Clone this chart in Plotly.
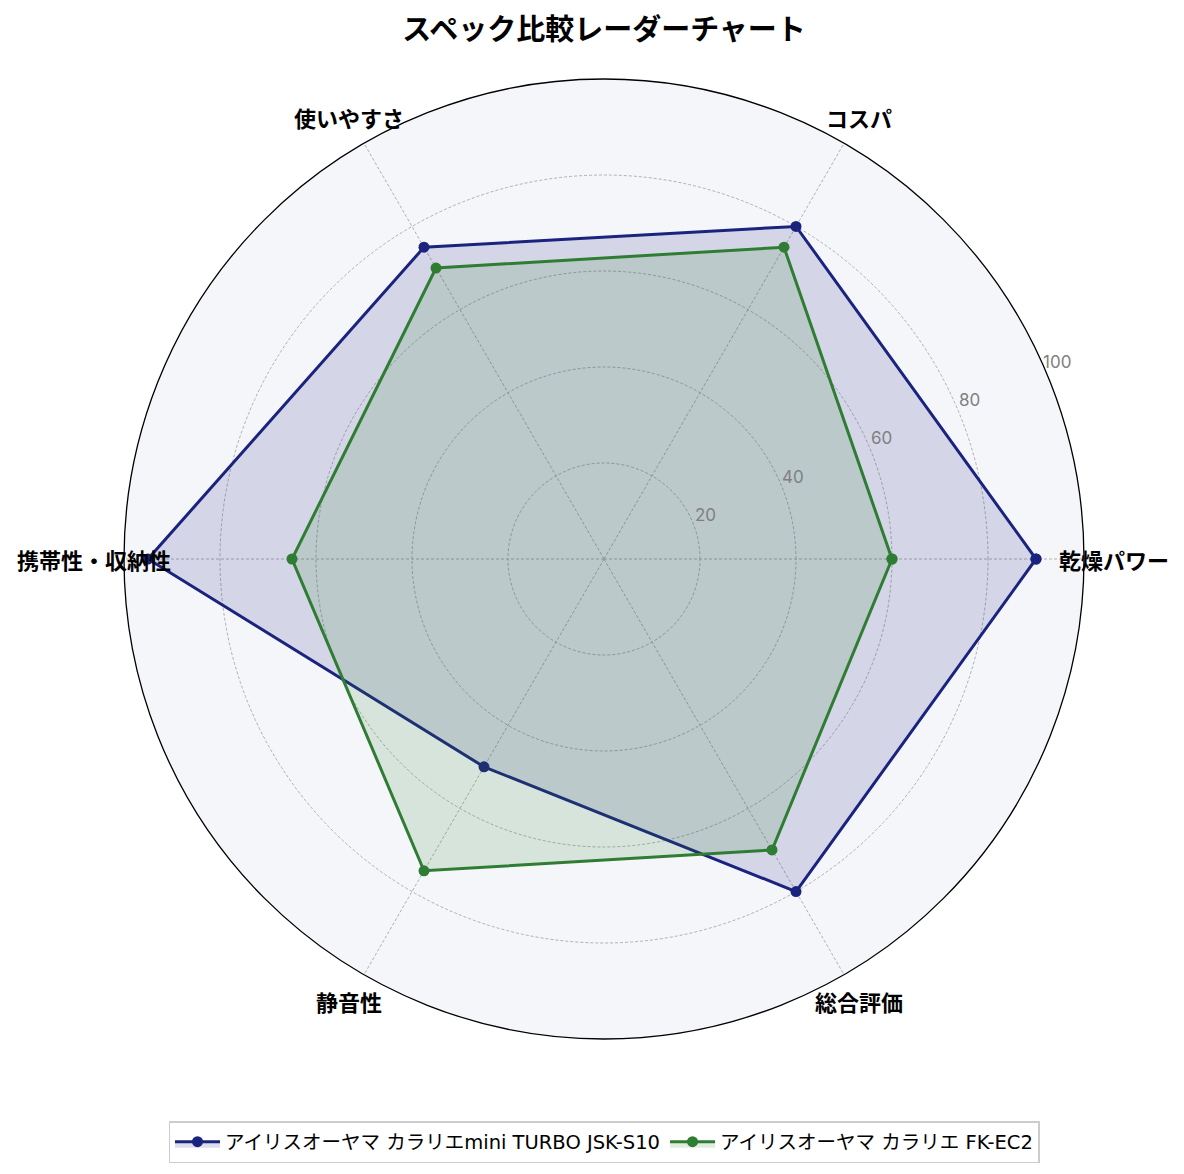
import math
import plotly.graph_objects as go

categories = ["乾燥パワー", "コスパ", "使いやすさ", "携帯性・収納性", "静音性", "総合評価"]
series_names = [
    "アイリスオーヤマ カラリエmini TURBO JSK-S10",
    "アイリスオーヤマ カラリエ FK-EC2",
]
values_turbo = [90, 80, 75, 95, 50, 80]
values_ec2 = [60, 75, 70, 65, 75, 70]
radial_ticks = [20, 40, 60, 80, 100]

colors = ["#1a237e", "#2e7d32"]
fills = ["rgba(26,35,126,0.15)", "rgba(46,125,50,0.15)"]

# angles in degrees, counterclockwise from east
angles = [i * 360 / len(categories) for i in range(len(categories))]

fig = go.Figure()
for name, vals, col, fc in zip(series_names, [values_turbo, values_ec2], colors, fills):
    fig.add_trace(go.Scatterpolar(
        r=vals + vals[:1],
        theta=angles + angles[:1],
        mode="lines+markers",
        name=name,
        fill="toself",
        fillcolor=fc,
        line=dict(color=col, width=3),
        marker=dict(color=col, size=11),
    ))

# page body has an 8px margin, so the figure is laid out 8px up/left
off = 8
cx, cy, rad = 604 - off, 559 - off, 480
W, H = 1184, 1174


def to_paper(r_frac, deg):
    a = math.radians(deg)
    return (cx + r_frac * rad * math.cos(a)) / W, 1 - (cy - r_frac * rad * math.sin(a)) / H


annotations = []
# category labels just outside the outer circle
for cat, ang in zip(categories, angles):
    x, y = to_paper(1.0625, ang)
    annotations.append(dict(
        x=x, y=y, xref="paper", yref="paper", showarrow=False,
        text=f"<b>{cat}</b>", xanchor="center", yanchor="middle",
        font=dict(size=22, color="black", family="Noto Sans CJK JP"),
    ))
# radial tick labels along ~23 degrees
for t in radial_ticks:
    x, y = to_paper((t + 3) / 100, 23.5)
    annotations.append(dict(
        x=x, y=y, xref="paper", yref="paper", showarrow=False,
        text=str(t), xanchor="center", yanchor="middle",
        font=dict(size=17, color="#808080", family="Inter, sans-serif"),
    ))

fig.update_layout(
    width=W, height=H,
    paper_bgcolor="white",
    margin=dict(l=0, r=0, t=0, b=0),
    font=dict(family="Noto Sans CJK JP, sans-serif", color="black"),
    title=dict(
        text="<b>スペック比較レーダーチャート</b>",
        x=cx / W, xanchor="center", y=1 - (30 - off) / H, yanchor="middle",
        font=dict(size=29, color="black"),
    ),
    annotations=annotations,
    polar=dict(
        domain=dict(x=[(cx - rad) / W, (cx + rad) / W],
                    y=[1 - (cy + rad) / H, 1 - (cy - rad) / H]),
        bgcolor="#f5f6fa",
        radialaxis=dict(
            range=[0, 100], tickvals=radial_ticks, angle=22.5,
            showline=False, ticks="", showticklabels=False,
            gridcolor="#b0b0b0", griddash="3px,2px", gridwidth=0.8,
        ),
        angularaxis=dict(
            thetaunit="degrees",
            direction="counterclockwise", rotation=0,
            tickmode="array", tickvals=angles,
            showline=True, linecolor="black", linewidth=1.3,
            gridcolor="#b0b0b0", griddash="3px,2px", gridwidth=0.8,
            ticks="", showticklabels=False,
        ),
    ),
    legend=dict(
        orientation="h", x=cx / W, xanchor="center", y=1 - (1142 - off) / H, yanchor="middle",
        bordercolor="#cccccc", borderwidth=1.5, bgcolor="white",
        itemwidth=45,
        font=dict(size=19.5, color="black", family="DejaVu Sans, Noto Sans CJK JP"),
    ),
)

fig.write_html("out.html")
